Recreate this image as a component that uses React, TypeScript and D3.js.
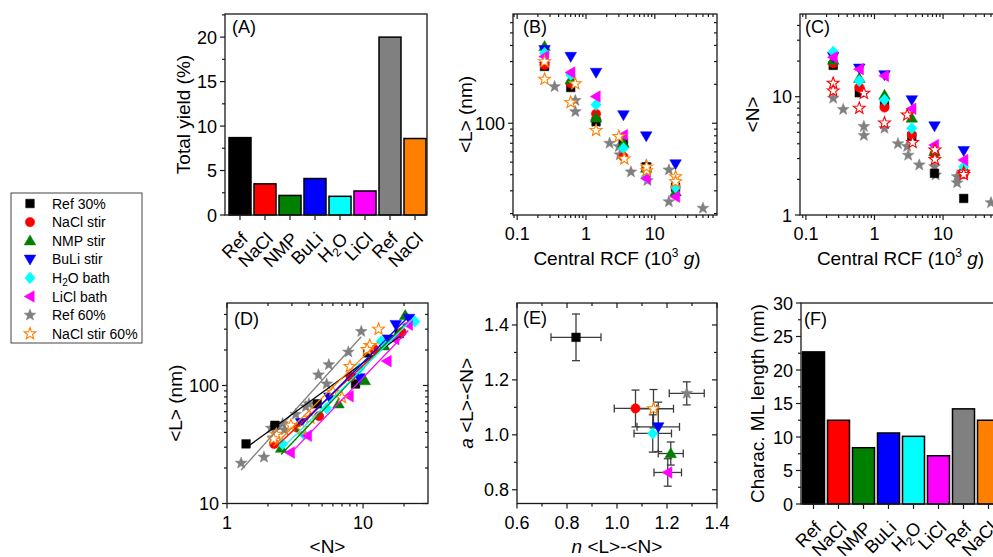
import React from "react";
import * as d3 from "d3";

const FONT = '"Liberation Sans", Arial, Helvetica, sans-serif';
const AX = "#1a1a1a";

// ---------------- data ----------------
const barLabels = ["Ref", "NaCl", "NMP", "BuLi", "H2O", "LiCl", "Ref", "NaCl"];
const barColors = ["#000000", "#ff0000", "#008000", "#0000ff", "#00ffff", "#ff00ff", "#808080", "#ff8000"];
const totalYield = [8.7, 3.5, 2.2, 4.1, 2.1, 2.7, 20.0, 8.6];
const mlLength = [22.7, 12.5, 8.4, 10.6, 10.1, 7.2, 14.2, 12.5];

const seriesNames = ["Ref 30%", "NaCl stir", "NMP stir", "BuLi stir", "H2O bath", "LiCl bath", "Ref 60%", "NaCl stir 60%"];
const seriesColors = ["#000000", "#ff0000", "#008000", "#0000ff", "#00ffff", "#ff00ff", "#808080", "#ff8000"];
const seriesShapes = ["square", "circle", "up", "down", "diamond", "left", "star", "openstar"];

const rcf30 = [0.25, 0.6, 1.4, 3.5, 7.5, 20];
const ref30L = [275, 189, 103, 70, 46, 32];
const ref30N = [18.4, 10.8, 8.8, 4.6, 2.25, 1.38];
const naclL = [283, 204, 118, 55, 44, 32];
const naclN = [19.2, 12.0, 8.1, 4.75, 3.28, 2.22];
const nmpL = [393, 217, 110, 70, 45, 29.5];
const nmpN = [20.4, 14.3, 10.3, 6.6, 3.43, 2.5];
const buliL = [370, 328, 247, 116, 79.7, 48.4];
const buliN = [21.8, 17.4, 15.3, 9.4, 5.65, 3.5];
const h2oL = [349, 237, 139, 64, 38.6, 31.9];
const h2oN = [24.0, 13.6, 9.4, 5.4, 3.66, 2.56];
const liclL = [328, 247, 161, 81, 37.5, 27];
const liclN = [21.5, 17.1, 15.0, 7.9, 3.9, 2.92];
const ref60Rcf = [0.25, 0.35, 0.7, 0.7, 1.4, 2.2, 3.0, 3.1, 4.5, 7.5, 7.8, 16, 16, 50];
const ref60L = [287, 192, 150, 123, 103, 70, 66, 57, 42, 47.5, 36, 43.5, 24.7, 22];
const ref60N = [9.7, 7.8, 5.6, 4.7, 5.4, 4.0, 3.8, 3.2, 2.65, 2.56, 2.18, 2.11, 1.87, 1.27];
const nacl60Rcf = [0.25, 0.25, 0.6, 0.7, 1.4, 3.0, 3.6, 7.6, 7.6, 20, 20];
const nacl60L = [300, 219, 145, 202, 88, 79, 53, 43, 46, 38.6, 35.3];
const nacl60N = [13, 11.2, 8.0, 10.7, 6.0, 7.0, 4.1, 3.55, 2.95, 2.3, 2.2];

const fitN = [0.836, 1.074, 1.215, 1.165, 1.143, 1.203, 1.279, 1.146];
const fitNErr = [0.1, 0.085, 0.05, 0.085, 0.075, 0.055, 0.07, 0.08];
const fitA = [1.355, 1.096, 0.932, 1.029, 1.005, 0.863, 1.151, 1.095];
const fitAErr = [0.085, 0.067, 0.042, 0.09, 0.068, 0.05, 0.042, 0.07];

const seriesRcf = [rcf30, rcf30, rcf30, rcf30, rcf30, rcf30, ref60Rcf, nacl60Rcf];
const seriesL = [ref30L, naclL, nmpL, buliL, h2oL, liclL, ref60L, nacl60L];
const seriesN = [ref30N, naclN, nmpN, buliN, h2oN, liclN, ref60N, nacl60N];
const drawOrder = [6, 0, 1, 2, 3, 4, 5, 7];

// ---------------- helpers ----------------
function starPath(R: number, r: number) {
  let d = "";
  for (let k = 0; k < 10; k++) {
    const rad = k % 2 ? r : R;
    const a = -Math.PI / 2 + (k * Math.PI) / 5;
    d += (k ? "L" : "M") + (rad * Math.cos(a)).toFixed(2) + "," + (rad * Math.sin(a)).toFixed(2);
  }
  return d + "Z";
}
function symPath(shape: string) {
  switch (shape) {
    case "square": return "M-4.3,-4.3H4.3V4.3H-4.3Z";
    case "up": return "M0,-5.8L5.8,4.2L-5.8,4.2Z";
    case "down": return "M0,5.8L5.8,-4.2L-5.8,-4.2Z";
    case "left": return "M-5.8,0L4.2,-5.8L4.2,5.8Z";
    case "diamond": return "M0,-5.8L5.2,0L0,5.8L-5.2,0Z";
    default: return starPath(6.2, 2.6);
  }
}
function Marker({ shape, color, x, y }: any) {
  if (shape === "circle") return <circle cx={x} cy={y} r={4.7} fill={color} stroke={color} strokeWidth={0.5} />;
  const open = shape === "openstar";
  return (
    <path transform={`translate(${x},${y})`} d={symPath(shape)} fill={open ? "#ffffff" : color}
      stroke={color} strokeWidth={open ? 1.1 : 0.5} strokeLinejoin="miter" />
  );
}

function logMinors(lo: number, hi: number) {
  const out: number[] = [];
  for (let e = -2; e <= 3; e++)
    for (let k = 1; k < 10; k++) {
      const v = k * Math.pow(10, e);
      if (v >= lo * 1.0001 && v <= hi * 0.9999) out.push(v);
    }
  return out;
}

function axisEls(key: string, o: any) {
  const { x0, x1, y0, y1, xs, ys, xMaj = [], xMin = [], xLab, yMaj = [], yMin = [], yLab, mirror, fs = 18 } = o;
  const els: any[] = [];
  const sw = 1.2;
  xMin.forEach((v: number, i: number) => {
    const x = xs(v);
    els.push(<line key={key + "xm" + i} x1={x} x2={x} y1={y1} y2={y1 + 3} stroke={AX} strokeWidth={sw} />);
    if (mirror) els.push(<line key={key + "xmt" + i} x1={x} x2={x} y1={y0} y2={y0 + 3} stroke={AX} strokeWidth={sw} />);
  });
  xMaj.forEach((v: number, i: number) => {
    const x = xs(v);
    els.push(<line key={key + "xM" + i} x1={x} x2={x} y1={y1} y2={y1 + 5} stroke={AX} strokeWidth={sw} />);
    if (mirror) els.push(<line key={key + "xMt" + i} x1={x} x2={x} y1={y0} y2={y0 + 5} stroke={AX} strokeWidth={sw} />);
    if (xLab) els.push(<text key={key + "xl" + i} x={x} y={y1 + 25} textAnchor="middle" fontSize={fs}>{xLab[i]}</text>);
  });
  yMin.forEach((v: number, i: number) => {
    const y = ys(v);
    els.push(<line key={key + "ym" + i} x1={x0} x2={x0 - 3} y1={y} y2={y} stroke={AX} strokeWidth={sw} />);
    if (mirror) els.push(<line key={key + "ymr" + i} x1={x1} x2={x1 - 3} y1={y} y2={y} stroke={AX} strokeWidth={sw} />);
  });
  yMaj.forEach((v: number, i: number) => {
    const y = ys(v);
    els.push(<line key={key + "yM" + i} x1={x0} x2={x0 - 5} y1={y} y2={y} stroke={AX} strokeWidth={sw} />);
    if (mirror) els.push(<line key={key + "yMr" + i} x1={x1} x2={x1 - 5} y1={y} y2={y} stroke={AX} strokeWidth={sw} />);
    if (yLab) els.push(<text key={key + "yl" + i} x={x0 - 8} y={y + 6.5} textAnchor="end" fontSize={fs}>{yLab[i]}</text>);
  });
  els.push(<rect key={key + "frame"} x={x0} y={y0} width={x1 - x0} height={y1 - y0} fill="none" stroke={AX} strokeWidth={1.3} />);
  return els;
}

function CatLabel({ label, x, y }: any) {
  if (label === "H2O") {
    return (
      <text transform={`translate(${x},${y}) rotate(-45)`} textAnchor="end" fontSize={18}>
        H<tspan fontSize={12} dy={4}>2</tspan><tspan dy={-4}>O</tspan>
      </text>
    );
  }
  return <text transform={`translate(${x},${y}) rotate(-45)`} textAnchor="end" fontSize={18}>{label}</text>;
}

function LegendLabel({ name }: any) {
  if (name.startsWith("H2O")) {
    return <>H<tspan fontSize={10} dy={3}>2</tspan><tspan dy={-3}>O{name.slice(3)}</tspan></>;
  }
  return <>{name}</>;
}

export default function App() {
  // ----- panel A -----
  const A = { x0: 225, x1: 427, y0: 14, y1: 215 };
  const xA = d3.scaleLinear().domain([0.4, 8.48]).range([A.x0, A.x1]);
  const yA = d3.scaleLinear().domain([0, 22.6]).range([A.y1, A.y0]);
  const idx = barLabels.map((_, i) => i + 1);
  const bw = 22;

  // ----- panel B -----
  const B = { x0: 513, x1: 717, y0: 14, y1: 215 };
  const xB = d3.scaleLog().domain([0.087, 80]).range([B.x0, B.x1]);
  const yB = d3.scaleLog().domain([19.5, 700]).range([B.y1, B.y0]);

  // ----- panel C -----
  const C = { x0: 800, x1: 1005, y0: 14, y1: 215 };
  const xC = d3.scaleLog().domain([0.082, 80]).range([C.x0, C.x1]);
  const yC = d3.scaleLog().domain([1, 50]).range([C.y1, C.y0]);

  // ----- panel D -----
  const D = { x0: 227, x1: 428, y0: 303, y1: 503.5 };
  const xD = d3.scaleLog().domain([1, 30]).range([D.x0, D.x1]);
  const yD = d3.scaleLog().domain([10, 500]).range([D.y1, D.y0]);

  // ----- panel E -----
  const E = { x0: 517, x1: 717, y0: 303, y1: 503.5 };
  const xE = d3.scaleLinear().domain([0.6, 1.4]).range([E.x0, E.x1]);
  const yE = d3.scaleLinear().domain([0.75, 1.48]).range([E.y1, E.y0]);

  // ----- panel F -----
  const F = { x0: 801, x1: 1001, y0: 303, y1: 504 };
  const xF = d3.scaleLinear().domain([0.5, 8.5]).range([F.x0, F.x1]);
  const yF = d3.scaleLinear().domain([0, 30]).range([F.y1, F.y0]);

  const fitLine = d3.line<number[]>().x((p) => xD(p[0])).y((p) => yD(p[1]));

  const rcfMaj = [0.1, 1, 10];
  const rcfLab = ["0.1", "1", "10"];

  return (
    <svg width={993} height={557} style={{ position: "absolute", left: 0, top: 0 }} fontFamily={FONT} fill="#000">
      <rect width={993} height={557} fill="#ffffff" />

      {/* ===== Panel A ===== */}
      {idx.map((k, i) => (
        <rect key={"ba" + i} x={xA(k) - bw / 2} y={yA(totalYield[i])} width={bw} height={yA(0) - yA(totalYield[i])}
          fill={barColors[i]} stroke="#000" strokeWidth={1.5} />
      ))}
      {axisEls("A", {
        ...A, xs: xA, ys: yA, xMaj: idx, yMaj: [0, 5, 10, 15, 20], yLab: ["0", "5", "10", "15", "20"],
        yMin: [2.5, 7.5, 12.5, 17.5, 22.5],
      })}
      {idx.map((k, i) => <CatLabel key={"la" + i} label={barLabels[i]} x={xA(k) + 9} y={A.y1 + 25} />)}
      <text transform={`translate(190,${(A.y0 + A.y1) / 2}) rotate(-90)`} textAnchor="middle" fontSize={19}>Total yield (%)</text>
      <text x={232} y={33} fontSize={18}>(A)</text>

      {/* ===== Panel B ===== */}
      {drawOrder.map((s) =>
        seriesRcf[s].map((r, j) => (
          <Marker key={"b" + s + "-" + j} shape={seriesShapes[s]} color={seriesColors[s]} x={xB(r)} y={yB(seriesL[s][j])} />
        ))
      )}
      {axisEls("B", {
        ...B, xs: xB, ys: yB, xMaj: rcfMaj, xLab: rcfLab, xMin: logMinors(0.087, 80).filter((v) => !rcfMaj.includes(v)),
        yMaj: [100], yLab: ["100"], yMin: logMinors(19.5, 700).filter((v) => v !== 100), mirror: true,
      })}
      <text x={(B.x0 + B.x1) / 2 + 2} y={265} textAnchor="middle" fontSize={19}>
        Central RCF (10<tspan fontSize={12} dy={-8}>3</tspan><tspan dy={8}> </tspan><tspan fontStyle="italic">g</tspan>)
      </text>
      <text transform={`translate(472,${(B.y0 + B.y1) / 2}) rotate(-90)`} textAnchor="middle" fontSize={19}>{"<L> (nm)"}</text>
      <text x={523} y={33} fontSize={18}>(B)</text>

      {/* ===== Panel C ===== */}
      {drawOrder.map((s) =>
        seriesRcf[s].map((r, j) => (
          <Marker key={"c" + s + "-" + j} shape={seriesShapes[s]} color={s === 7 ? "#ff0000" : seriesColors[s]} x={xC(r)} y={yC(seriesN[s][j])} />
        ))
      )}
      {axisEls("C", {
        ...C, xs: xC, ys: yC, xMaj: rcfMaj, xLab: rcfLab, xMin: logMinors(0.082, 80).filter((v) => !rcfMaj.includes(v)),
        yMaj: [1, 10], yLab: ["1", "10"], yMin: logMinors(1, 50).filter((v) => v !== 10), mirror: true,
      })}
      <text x={(C.x0 + C.x1) / 2 - 2} y={265} textAnchor="middle" fontSize={19}>
        Central RCF (10<tspan fontSize={12} dy={-8}>3</tspan><tspan dy={8}> </tspan><tspan fontStyle="italic">g</tspan>)
      </text>
      <text transform={`translate(759,${(C.y0 + C.y1) / 2}) rotate(-90)`} textAnchor="middle" fontSize={19}>{"<N>"}</text>
      <text x={805} y={33} fontSize={18}>(C)</text>

      {/* ===== Legend ===== */}
      <rect x={11} y={193} width={131} height={150} fill="#fff" stroke="#444" strokeWidth={1} />
      {seriesNames.map((nm, i) => {
        const cy = 203.5 + i * 18.6;
        return (
          <g key={"lg" + i}>
            <Marker shape={seriesShapes[i]} color={seriesColors[i]} x={30} y={cy} />
            <text x={52} y={cy + 5} fontSize={14}><LegendLabel name={nm} /></text>
          </g>
        );
      })}

      {/* ===== Panel D ===== */}
      {drawOrder.map((s) =>
        seriesN[s].map((n, j) => (
          <Marker key={"d" + s + "-" + j} shape={seriesShapes[s]} color={seriesColors[s]} x={xD(n)} y={yD(seriesL[s][j])} />
        ))
      )}
      {drawOrder.map((s) => {
        const lo = d3.min(seriesN[s]) as number;
        const hi = d3.max(seriesN[s]) as number;
        const pts = [lo, hi].map((n) => [n, Math.pow(10, fitA[s]) * Math.pow(n, fitN[s])]);
        return <path key={"fl" + s} d={fitLine(pts) || ""} fill="none" stroke={seriesColors[s]} strokeWidth={1.3} />;
      })}
      {axisEls("D", {
        ...D, xs: xD, ys: yD, xMaj: [1, 10], xLab: ["1", "10"], xMin: logMinors(1, 30).filter((v) => v !== 10),
        yMaj: [10, 100], yLab: ["10", "100"], yMin: logMinors(10, 500).filter((v) => v !== 100), mirror: true,
      })}
      <text x={(D.x0 + D.x1) / 2} y={553} textAnchor="middle" fontSize={19}>{"<N>"}</text>
      <text transform={`translate(182,${(D.y0 + D.y1) / 2}) rotate(-90)`} textAnchor="middle" fontSize={19}>{"<L> (nm)"}</text>
      <text x={234} y={325} fontSize={18}>(D)</text>

      {/* ===== Panel E ===== */}
      {drawOrder.map((s) => {
        const cx = xE(fitN[s]);
        const cy = yE(fitA[s]);
        const xl = xE(fitN[s] - fitNErr[s]);
        const xr = xE(fitN[s] + fitNErr[s]);
        const yt = yE(fitA[s] + fitAErr[s]);
        const yb = yE(fitA[s] - fitAErr[s]);
        const ec = "#3c3c3c";
        return (
          <g key={"eb" + s} stroke={ec} strokeWidth={1.3}>
            <line x1={xl} x2={xr} y1={cy} y2={cy} />
            <line x1={cx} x2={cx} y1={yt} y2={yb} />
            <line x1={xl} x2={xl} y1={cy - 4} y2={cy + 4} />
            <line x1={xr} x2={xr} y1={cy - 4} y2={cy + 4} />
            <line x1={cx - 4} x2={cx + 4} y1={yt} y2={yt} />
            <line x1={cx - 4} x2={cx + 4} y1={yb} y2={yb} />
          </g>
        );
      })}
      {drawOrder.map((s) => (
        <Marker key={"em" + s} shape={seriesShapes[s]} color={seriesColors[s]} x={xE(fitN[s])} y={yE(fitA[s])} />
      ))}
      {axisEls("E", {
        ...E, xs: xE, ys: yE, xMaj: [0.6, 0.8, 1.0, 1.2, 1.4], xLab: ["0.6", "0.8", "1.0", "1.2", "1.4"],
        xMin: [0.7, 0.9, 1.1, 1.3], yMaj: [0.8, 1.0, 1.2, 1.4], yLab: ["0.8", "1.0", "1.2", "1.4"],
        yMin: [0.9, 1.1, 1.3], mirror: true,
      })}
      <text x={(E.x0 + E.x1) / 2} y={553} textAnchor="middle" fontSize={19}>
        <tspan fontStyle="italic">n</tspan>{" <L>-<N>"}
      </text>
      <text transform={`translate(473,${(E.y0 + E.y1) / 2}) rotate(-90)`} textAnchor="middle" fontSize={19}>
        <tspan fontStyle="italic">a</tspan>{" <L>-<N>"}
      </text>
      <text x={523} y={324} fontSize={18}>(E)</text>

      {/* ===== Panel F ===== */}
      {idx.map((k, i) => (
        <rect key={"bf" + i} x={xF(k) - bw / 2} y={yF(mlLength[i])} width={bw} height={yF(0) - yF(mlLength[i])}
          fill={barColors[i]} stroke="#000" strokeWidth={1.5} />
      ))}
      {axisEls("F", {
        ...F, xs: xF, ys: yF, xMaj: idx, yMaj: [0, 5, 10, 15, 20, 25, 30], yLab: ["0", "5", "10", "15", "20", "25", "30"],
        yMin: [2.5, 7.5, 12.5, 17.5, 22.5, 27.5],
      })}
      {idx.map((k, i) => <CatLabel key={"lf" + i} label={barLabels[i]} x={xF(k) + 9} y={F.y1 + 25} />)}
      <text transform={`translate(764,${(F.y0 + F.y1) / 2}) rotate(-90)`} textAnchor="middle" fontSize={19}>Charac. ML length (nm)</text>
      <text x={804} y={325} fontSize={18}>(F)</text>
    </svg>
  );
}
